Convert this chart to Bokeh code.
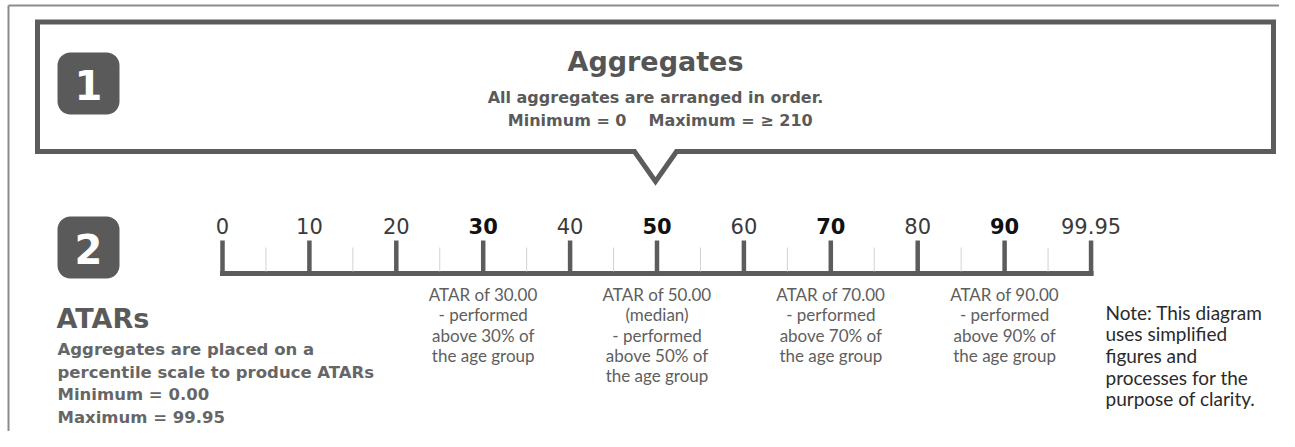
from bokeh.plotting import figure
from bokeh.models import Range1d, ColumnDataSource
from bokeh.core.properties import value
from bokeh.embed import file_html
from bokeh.resources import INLINE

# ---------------- data ----------------
tick_values = [0, 10, 20, 30, 40, 50, 60, 70, 80, 90, 99.95]
tick_labels = ["0", "10", "20", "30", "40", "50", "60", "70", "80", "90", "99.95"]
bold_ticks = [30, 50, 70, 90]
minor_ticks = [5, 15, 25, 35, 45, 55, 65, 75, 85, 95]
annot_values = [30, 50, 70, 90]
annot_texts = [
    ["ATAR of 30.00", "- performed", "above 30% of", "the age group"],
    ["ATAR of 50.00", "(median)", "- performed", "above 50% of", "the age group"],
    ["ATAR of 70.00", "- performed", "above 70% of", "the age group"],
    ["ATAR of 90.00", "- performed", "above 90% of", "the age group"],
]
agg_title = "Aggregates"
agg_line = "All aggregates are arranged in order."
agg_min = "Minimum = 0"
agg_max = "Maximum = \u2265 210"
atar_title = "ATARs"
atar_lines = ["Aggregates are placed on a", "percentile scale to produce ATARs",
              "Minimum = 0.00", "Maximum = 99.95"]
note_lines = ["Note: This diagram", "uses simplified", "figures and",
              "processes for the", "purpose of clarity."]

# ---------------- layout helpers ----------------
ORIGIN = 222.0      # screen x of ATAR 0
PX_PER_UNIT = 8.69  # screen px per ATAR unit
W, H = 1279, 431


def X(px):
    return (px - ORIGIN) / PX_PER_UNIT


DARK = "#5c5c5c"
HEAD = value("DejaVu Sans")
LIGHT = value("Lato")

p = figure(width=W, height=H,
           x_range=Range1d(X(0), X(W)), y_range=Range1d(H, 0),
           output_backend="svg", toolbar_location=None, min_border=0,
           x_axis_location=None, y_axis_location=None)
p.xgrid.visible = False
p.ygrid.visible = False
p.outline_line_color = None
p.background_fill_color = "white"
p.border_fill_color = "white"

# outer frame (left and top edges)
p.line(x=[X(8), X(8)], y=[H, 5], line_color="#8c8c8c", line_width=2)
p.line(x=[X(8), X(W)], y=[5, 5], line_color="#8c8c8c", line_width=2)

# aggregates box with pointer
p.patch(x=[X(37), X(1273), X(1273), X(676), X(655), X(634), X(37)],
        y=[21.5, 21.5, 151, 151, 181, 151, 151],
        fill_color="white", line_color=DARK, line_width=5, line_join="miter")

# badges
p.quad(left=[X(57), X(57)], right=[X(119), X(119)], top=[52, 216], bottom=[114, 278],
       fill_color="#5a5a5a", line_color=None, border_radius=13)
p.text(x=[X(88), X(88)], y=[84, 248], text=["1", "2"], text_color="white",
       text_font=HEAD, text_font_style="bold", text_font_size="40px",
       text_align="center", text_baseline="middle")

# aggregates text
p.text(x=[X(655)], y=[61], text=[agg_title], text_color="#555555", text_font=HEAD,
       text_font_style="bold", text_font_size="27px", text_align="center",
       text_baseline="middle")
p.text(x=[X(655)], y=[97], text=[agg_line], text_color="#5a5a5a", text_font=HEAD,
       text_font_style="bold", text_font_size="16px", text_align="center",
       text_baseline="middle")
p.text(x=[X(626)], y=[120], text=[agg_min], text_color="#5a5a5a", text_font=HEAD,
       text_font_style="bold", text_font_size="16px", text_align="right",
       text_baseline="middle")
p.text(x=[X(648)], y=[120], text=[agg_max], text_color="#5a5a5a", text_font=HEAD,
       text_font_style="bold", text_font_size="16px", text_align="left",
       text_baseline="middle")

# ATARs text
p.text(x=[X(56)], y=[318], text=[atar_title], text_color="#5a5a5a", text_font=HEAD,
       text_font_style="bold", text_font_size="27px", text_align="left",
       text_baseline="middle")
p.text(x=[X(57)] * len(atar_lines), y=[349 + 22.7 * i for i in range(len(atar_lines))],
       text=atar_lines, text_color="#666666", text_font=HEAD, text_font_style="bold",
       text_font_size="16.5px", text_align="left", text_baseline="middle")

# ruler
p.segment(x0=[0], x1=[tick_values[-1]], y0=[273], y1=[273], line_color=DARK,
          line_width=5, line_cap="square")
p.segment(x0=minor_ticks, x1=minor_ticks, y0=[247] * len(minor_ticks),
          y1=[271] * len(minor_ticks), line_color="#d2d2d2", line_width=1)
p.segment(x0=tick_values, x1=tick_values, y0=[240] * len(tick_values),
          y1=[274] * len(tick_values), line_color=DARK, line_width=4.5)

norm_src = ColumnDataSource(dict(
    x=[v for v in tick_values if v not in bold_ticks],
    t=[l for v, l in zip(tick_values, tick_labels) if v not in bold_ticks]))
bold_src = ColumnDataSource(dict(
    x=[v for v in tick_values if v in bold_ticks],
    t=[l for v, l in zip(tick_values, tick_labels) if v in bold_ticks]))
p.text(x="x", y=225, text="t", source=norm_src, text_color="#3a3a3a", text_font=HEAD,
       text_font_size="21px", text_align="center", text_baseline="middle")
p.text(x="x", y=225, text="t", source=bold_src, text_color="#111111", text_font=HEAD,
       text_font_style="bold", text_font_size="21px", text_align="center",
       text_baseline="middle")

# annotations under the ruler
ax, ay, at = [], [], []
for v, lines in zip(annot_values, annot_texts):
    for j, line in enumerate(lines):
        ax.append(v)
        ay.append(294 + 20.3 * j)
        at.append(line)
p.text(x=ax, y=ay, text=at, text_color="#5e5e5e", text_font=LIGHT,
       text_font_size="17px", text_align="center", text_baseline="middle")

# note
p.text(x=[X(1105)] * len(note_lines), y=[311.5 + 21.7 * i for i in range(len(note_lines))],
       text=note_lines, text_color="#2a2a2a", text_font=LIGHT,
       text_font_size="19px", text_align="left", text_baseline="middle")

open("out.html", "w").write(file_html(p, INLINE))
